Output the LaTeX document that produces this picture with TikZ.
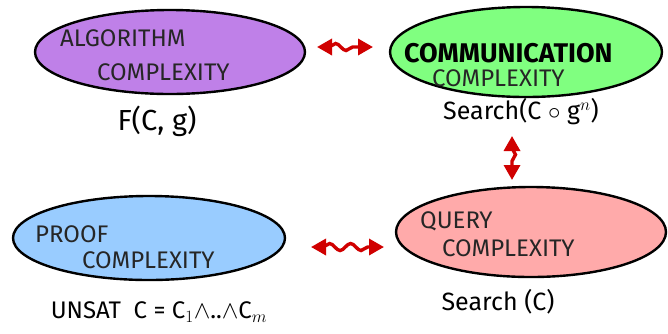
\documentclass[tikz,border=0pt]{standalone}
\usepackage{fontspec}
\setmainfont{Fira Sans}
\usetikzlibrary{decorations.pathmorphing,arrows.meta,shapes.geometric}
\definecolor{algo}{HTML}{BF80E8}
\definecolor{comm}{HTML}{80FF80}
\definecolor{proof}{HTML}{99CCFF}
\definecolor{query}{HTML}{FFAAAA}
\definecolor{link}{HTML}{D00000}
\tikzset{
  area/.style={draw=black, line width=2.4pt, ellipse, inner sep=0pt},
  word/.style={font=\fontsize{24}{24}\selectfont, text=black!85, inner sep=0pt},
  tag/.style={font=\fontsize{25}{25}\selectfont, inner sep=0pt},
  relate/.style={draw=link, line width=3.4pt,
    decorate, decoration={snake, amplitude=3.5pt, segment length=21pt, pre length=12pt, post length=14pt},
    {Triangle[length=15pt,width=16pt]}-{Triangle[length=15pt,width=16pt]}},
}
\begin{document}
\begin{tikzpicture}[x=1pt,y=-1pt]
\useasboundingbox (0,0) rectangle (668,333);
% the four areas
\node[area, fill=algo,  minimum width=270pt, minimum height=84pt] (alg) at (170,52)  {};
\node[area, fill=comm,  minimum width=272pt, minimum height=90pt] (com) at (526,52)  {};
\node[area, fill=proof, minimum width=272pt, minimum height=84pt] (prf) at (149,238) {};
\node[area, fill=query, minimum width=270pt, minimum height=90pt] (qry) at (531,232) {};
% titles inside the areas
\node[word, anchor=west] (a1) at (60,38)  {ALGORITHM};
\node[word, anchor=west] (a2) at (97,72)  {COMPLEXITY};
\node[word, anchor=west, font=\fontsize{27}{27}\selectfont\bfseries, text=black] (c1) at (404,53) {COMMUNICATION};
\node[word, anchor=west] (c2) at (432,78) {COMPLEXITY};
\node[word, anchor=west] (p1) at (35,234)  {PROOF};
\node[word, anchor=west] (p2) at (82,260)  {COMPLEXITY};
\node[word, anchor=west] (q1) at (420,221) {QUERY};
\node[word, anchor=west] (q2) at (442,248) {COMPLEXITY};
% problems under the areas
\node[tag, font=\fontsize{29}{29}\selectfont] (fa) at (157,121) {F(C, g)};
\node[tag] (fc) at (521,112) {Search(C $\circ$ g$^{n}$)};
\node[tag, font=\fontsize{24}{24}\selectfont] (fp) at (159,312) {UNSAT\ \ C = C$_1\wedge$..$\wedge$C$_m$};
\node[tag] (fq) at (498,302) {Search (C)};
% links between the areas
\coordinate (t1) at (317,47);
\coordinate (t2) at (373,47);
\coordinate (v1) at (512,136);
\coordinate (v2) at (512,180);
\coordinate (b1) at (311,247);
\coordinate (b2) at (384,247);
\draw[relate] (t1) -- (t2);
\draw[relate] (v1) -- (v2);
\draw[relate] (b1) -- (b2);
\end{tikzpicture}
\end{document}
